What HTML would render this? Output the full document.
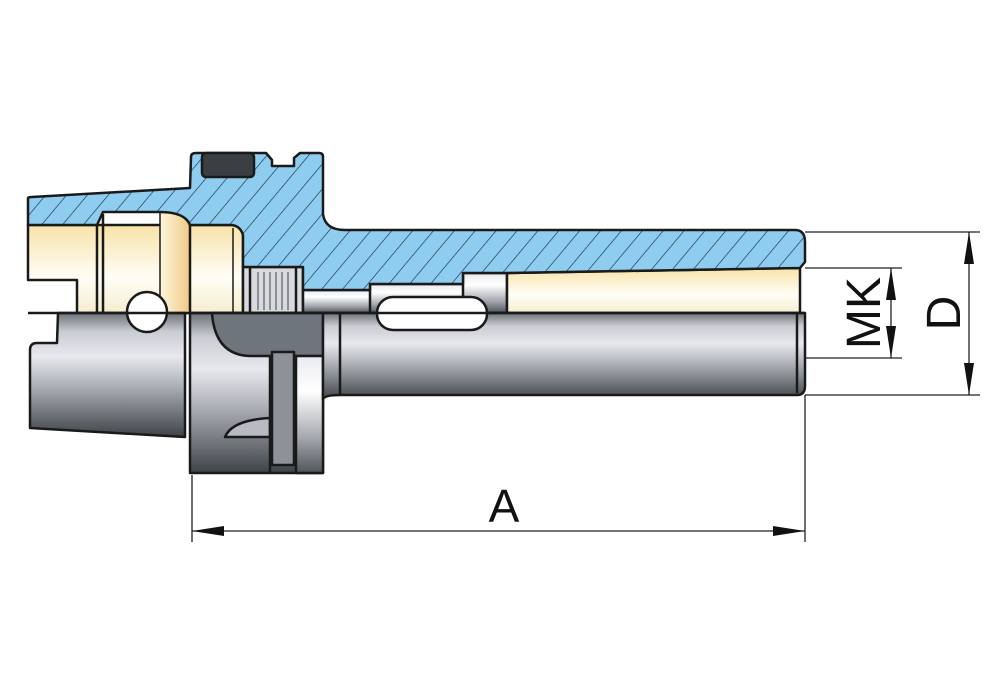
<!DOCTYPE html>
<html><head><meta charset="utf-8"><style>body{margin:0;background:#fff}svg{display:block}</style></head>
<body>
<svg width="1000" height="694" viewBox="0 0 1000 694" xmlns="http://www.w3.org/2000/svg">
<defs>
<pattern id="h" patternUnits="userSpaceOnUse" width="16" height="16" patternTransform="rotate(40)">
<rect width="16" height="16" fill="#8fcdf0"/><line x1="0" y1="0" x2="0" y2="16" stroke="#1b2d40" stroke-width="1.3"/></pattern>
<linearGradient id="g" x1="0" y1="0" x2="0" y2="1">
<stop offset="0" stop-color="#6d7278"/><stop offset="0.15" stop-color="#c9ccd2"/><stop offset="0.35" stop-color="#e8e9ee"/><stop offset="0.6" stop-color="#a9adb3"/><stop offset="1" stop-color="#3e4348"/></linearGradient>
<linearGradient id="g2" x1="0" y1="0" x2="0" y2="1">
<stop offset="0" stop-color="#e9eaee"/><stop offset="0.3" stop-color="#ffffff"/><stop offset="0.7" stop-color="#a4a8ae"/><stop offset="1" stop-color="#50555a"/></linearGradient>
<linearGradient id="y" x1="0" y1="0" x2="0" y2="1">
<stop offset="0" stop-color="#f8e2a8"/><stop offset="0.6" stop-color="#fffef6"/><stop offset="1" stop-color="#f6edcf"/></linearGradient>
<linearGradient id="yh" x1="0" y1="0" x2="1" y2="0">
<stop offset="0" stop-color="#fff7dd"/><stop offset="1" stop-color="#eec986"/></linearGradient>
</defs>
<g stroke="#1a1a1a" stroke-width="2.5" stroke-linejoin="round">
<!-- yellow upper-left -->
<path d="M28,225 L28,280 L77,280 L77,313 L243,313 L243,225 Z" fill="url(#y)"/>
<rect x="160" y="212" width="30" height="101" fill="url(#yh)" stroke="none"/>
<line x1="97" y1="225" x2="97" y2="313"/><line x1="103" y1="214" x2="103" y2="313"/><line x1="160" y1="212" x2="160" y2="313" stroke-width="1.5"/><line x1="190" y1="225" x2="190" y2="313"/>
<line x1="233" y1="228" x2="233" y2="313" stroke-width="1.5"/>
<!-- thread -->
<rect x="243" y="267" width="60" height="46" fill="#d8dade"/>
<g stroke="#8a8f96" stroke-width="2"><line x1="258" y1="272" x2="258" y2="310"/><line x1="264" y1="272" x2="264" y2="310"/><line x1="270" y1="272" x2="270" y2="310"/><line x1="276" y1="272" x2="276" y2="310"/><line x1="282" y1="272" x2="282" y2="310"/><line x1="288" y1="272" x2="288" y2="310"/></g>
<line x1="250" y1="267" x2="250" y2="313"/><line x1="296" y1="267" x2="296" y2="313"/>
<!-- inner bore pieces -->
<rect x="303" y="290" width="70" height="23" fill="url(#g2)"/>
<rect x="370" y="284" width="98" height="29" fill="url(#g2)"/>
<rect x="463" y="273" width="44" height="40" fill="url(#g2)"/>
<path d="M507,273 L800,268 L800,313 L507,313 Z" fill="url(#y)"/>
<!-- blue section -->
<path d="M28,198 Q28,197 32,197 L190,188 L191,157 Q191,153 196,153 L266,153 L272,160 L272,166 L294,166 L294,158 L300,153 L319,153 Q323,153 323,157 L323,214 Q325,230 345,230 L795,230 Q805,230 805,242 L805,262 L800,268 L507,273 L463,273 L463,284 L370,284 L370,290 L303,290 L303,267 L243,267 L243,235 Q240,225 230,225 L190,225 Q185,212 160,212 L103,212 L97,225 L28,225 Z" fill="url(#h)"/>
<rect x="202" y="153" width="52" height="24" rx="4" fill="#3a3f44"/>
<!-- lower left taper -->
<path d="M58,313 L185,313 L185,437 L30,428 L30,350 Q30,343 37,343 L57,343 Z" fill="url(#g)"/>
<!-- flange lower -->
<rect x="190" y="313" width="133" height="160" fill="url(#g)"/>
<path d="M212,313 Q215,355 250,356 L323,356 L323,313 Z" fill="#6f757c"/>
<rect x="272" y="352" width="22" height="113" fill="#8d9298"/>
<rect x="296" y="356" width="27" height="117" fill="url(#g2)"/>
<path d="M225,437 Q232,420 270,418 L270,437 Z" fill="#b8bcc2"/>
<line x1="270" y1="356" x2="270" y2="473"/>
<!-- shank -->
<path d="M323,313 L805,313 L805,386 Q805,395 797,395 L340,395 Q323,395 323,400 Z" fill="url(#g)"/>
<line x1="340" y1="313" x2="340" y2="395"/><line x1="797" y1="313" x2="797" y2="393"/>
<rect x="377" y="297" width="110" height="33" rx="16" fill="#fff"/>
<circle cx="147" cy="312" r="20" fill="#fff"/>
<line x1="28" y1="313" x2="805" y2="313"/>
</g>
<!-- dimensions -->
<g stroke="#222" stroke-width="1.3" fill="#111">
<line x1="805" y1="232" x2="980" y2="232"/><line x1="805" y1="395" x2="980" y2="395"/>
<line x1="805" y1="268" x2="902" y2="268"/><line x1="805" y1="358" x2="902" y2="358"/>
<line x1="969" y1="232" x2="969" y2="395"/><line x1="891" y1="268" x2="891" y2="358"/>
<line x1="192" y1="475" x2="192" y2="542"/><line x1="805" y1="395" x2="805" y2="542"/>
<line x1="192" y1="531" x2="805" y2="531"/>
<path d="M969,232 l-5,32 l10,0 Z M969,395 l-5,-32 l10,0 Z M891,268 l-5,32 l10,0 Z M891,358 l-5,-32 l10,0 Z M192,531 l32,-5 l0,10 Z M805,531 l-32,-5 l0,10 Z" stroke="none"/>
</g>
<g font-family="Liberation Sans, sans-serif" fill="#111" text-anchor="middle">
<text x="504" y="522" font-size="46">A</text>
<text transform="translate(880,313) rotate(-90)" font-size="48">MK</text>
<text transform="translate(960,313) rotate(-90)" font-size="48">D</text>
</g>
</svg>
</body></html>
